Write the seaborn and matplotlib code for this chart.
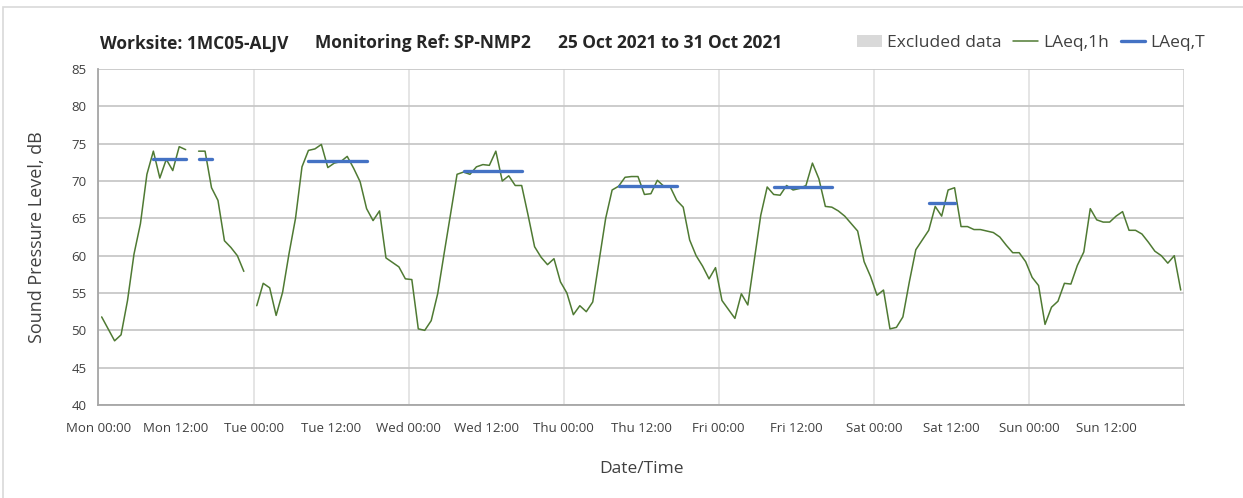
import matplotlib
matplotlib.use('Agg')
import matplotlib.pyplot as plt
import matplotlib.ticker as mticker
from matplotlib.patches import Rectangle
import numpy as np
import pandas as pd
import seaborn as sns

# hourly LAeq,1h from Mon 00:00 to Sun 23:00 (NaN = no data)
laeq_1h = [
    # Mon
    51.8, 50.2, 48.6, 49.4, 54.0, 60.2, 64.3, 70.9, 74.0, 70.4, 72.9, 71.4,
    74.6, 74.2, np.nan, 74.0, 74.0, 69.1, 67.4, 62.0, 61.1, 60.0, 57.9, np.nan,
    # Tue
    53.3, 56.3, 55.7, 52.0, 55.1, 60.3, 65.0, 71.9, 74.1, 74.3, 74.9, 71.8,
    72.4, 72.6, 73.3, 71.7, 69.9, 66.3, 64.7, 66.0, 59.7, 59.1, 58.5, 56.9,
    # Wed
    56.8, 50.2, 50.0, 51.3, 54.9, 60.3, 65.6, 70.9, 71.2, 70.9, 71.9, 72.2,
    72.1, 74.0, 70.0, 70.7, 69.4, 69.4, 65.4, 61.2, 59.8, 58.8, 59.6, 56.5,
    # Thu
    55.0, 52.1, 53.3, 52.5, 53.8, 59.4, 65.0, 68.8, 69.3, 70.5, 70.6, 70.6,
    68.2, 68.3, 70.1, 69.3, 69.2, 67.4, 66.5, 62.1, 60.0, 58.6, 56.9, 58.4,
    # Fri
    54.0, 52.8, 51.6, 54.9, 53.4, 59.4, 65.4, 69.2, 68.2, 68.1, 69.4, 68.8,
    69.0, 69.4, 72.4, 70.3, 66.6, 66.5, 66.0, 65.3, 64.3, 63.3, 59.2, 57.2,
    # Sat
    54.7, 55.4, 50.2, 50.4, 51.8, 56.5, 60.8, 62.1, 63.4, 66.6, 65.3, 68.8,
    69.1, 63.9, 63.9, 63.5, 63.5, 63.3, 63.1, 62.5, 61.4, 60.4, 60.4, 59.2,
    # Sun
    57.1, 56.0, 50.8, 53.1, 53.9, 56.3, 56.2, 58.7, 60.5, 66.3, 64.8, 64.5,
    64.5, 65.3, 65.9, 63.4, 63.4, 62.9, 61.8, 60.6, 60.0, 59.0, 60.0, 55.4,
]

# LAeq,T per day and the hour range it covers (Sun has none)
laeq_t_levels = [73.0, 72.7, 71.4, 69.4, 69.2, 67.1]
laeq_t_start = [8, 8, 8, 8, 8, 8]
laeq_t_end = [17, 17, 17, 17, 17, 12]

tick_labels = ['Mon 00:00', 'Mon 12:00', 'Tue 00:00', 'Tue 12:00', 'Wed 00:00',
               'Wed 12:00', 'Thu 00:00', 'Thu 12:00', 'Fri 00:00', 'Fri 12:00',
               'Sat 00:00', 'Sat 12:00', 'Sun 00:00', 'Sun 12:00', '']

title_parts = ['Worksite: 1MC05-ALJV', 'Monitoring Ref: SP-NMP2',
               '25 Oct 2021 to 31 Oct 2021']

GREEN = '#4F7A33'
BLUE = '#4472C4'
GREY = '#D9D9D9'

sns.set_theme(style='white')
plt.rcParams['font.family'] = ['Open Sans', 'DejaVu Sans']

hours = np.arange(len(laeq_1h))
df = pd.DataFrame({'hour': hours + 0.5, 'level': laeq_1h})

# LAeq,T drawn at the same hourly positions, broken where data is missing
t_vals = np.full(len(laeq_1h), np.nan)
for day, lvl in enumerate(laeq_t_levels):
    for h in range(laeq_t_start[day], laeq_t_end[day] + 1):
        t_vals[day * 24 + h] = lvl
t_vals[np.isnan(df['level'].values)] = np.nan
df['laeq_t'] = t_vals
excluded = np.zeros(len(laeq_1h), dtype=bool)


def segments(frame, col):
    sub = frame[['hour', col]].copy()
    ok = sub[col].notna()
    sub['seg'] = (~ok).cumsum()
    return sub[ok]


fig = plt.figure(figsize=(12.43, 4.98), dpi=100)
ax = fig.add_axes([0.0792, 0.1867, 0.8733, 0.6747])

ax.fill_between(df['hour'], 40, 85, where=excluded, color=GREY,
                linewidth=0, label='Excluded data')

seg1 = segments(df, 'level')
sns.lineplot(data=seg1, x='hour', y='level', units='seg', estimator=None,
             color=GREEN, linewidth=1.1, ax=ax, legend=False, label='LAeq,1h')
segT = segments(df, 'laeq_t')
sns.lineplot(data=segT, x='hour', y='laeq_t', units='seg', estimator=None,
             color=BLUE, linewidth=2.4, ax=ax, legend=False, label='LAeq,T')

ax.set_xlim(0, 168)
ax.set_ylim(40, 85)
ax.set_xticks(np.arange(0, 169, 12))
ax.set_xticklabels(tick_labels)
ax.xaxis.set_minor_locator(mticker.MultipleLocator(24))
ax.xaxis.remove_overlapping_locs = False
ax.yaxis.set_major_locator(mticker.MultipleLocator(5))

ax.grid(axis='y', which='major', color='#C8C8C8', linewidth=1.3)
ax.grid(axis='x', which='minor', color='#E0E0E0', linewidth=1.2)
ax.set_axisbelow(True)

for side in ['top', 'right']:
    ax.spines[side].set_visible(False)
for side in ['left', 'bottom']:
    ax.spines[side].set_color('#A6A6A6')
    ax.spines[side].set_linewidth(1.3)
ax.axvline(168, color='#B0B0B0', linewidth=1.3, zorder=0)

ax.tick_params(axis='both', which='major', length=5, width=1, color='#A6A6A6',
               labelsize=9.5, labelcolor='#404040', direction='out')
ax.tick_params(axis='x', which='minor', length=0)
ax.tick_params(axis='x', pad=7)

ax.set_xlabel('Date/Time', fontsize=12.5, color='#404040', labelpad=19)
ax.set_ylabel('Sound Pressure Level, dB', fontsize=13, color='#404040', labelpad=18)

for part, xpx in zip(title_parts, [100, 315, 558]):
    fig.text(xpx / 1243, 0.913, part, fontsize=12.5, fontweight='bold',
             color='#262626', ha='left', va='center')

# one legend entry per label (lineplot with units gives several lines)
h_all, l_all = ax.get_legend_handles_labels()
uniq = dict(zip(l_all, h_all))
fig.legend(list(uniq.values()), list(uniq.keys()), loc='center right',
           bbox_to_anchor=(0.982, 0.913), ncol=3, frameon=False, fontsize=12.5,
           handlelength=1.4, handletextpad=0.3, columnspacing=0.7,
           labelcolor='#404040')

fig.patches.append(Rectangle((0.0025, -0.1), 1.2, 1.1 - 0.014, transform=fig.transFigure,
                             fill=False, edgecolor='#D9D9D9', linewidth=1.2))

fig.savefig('out.png', dpi=100)
